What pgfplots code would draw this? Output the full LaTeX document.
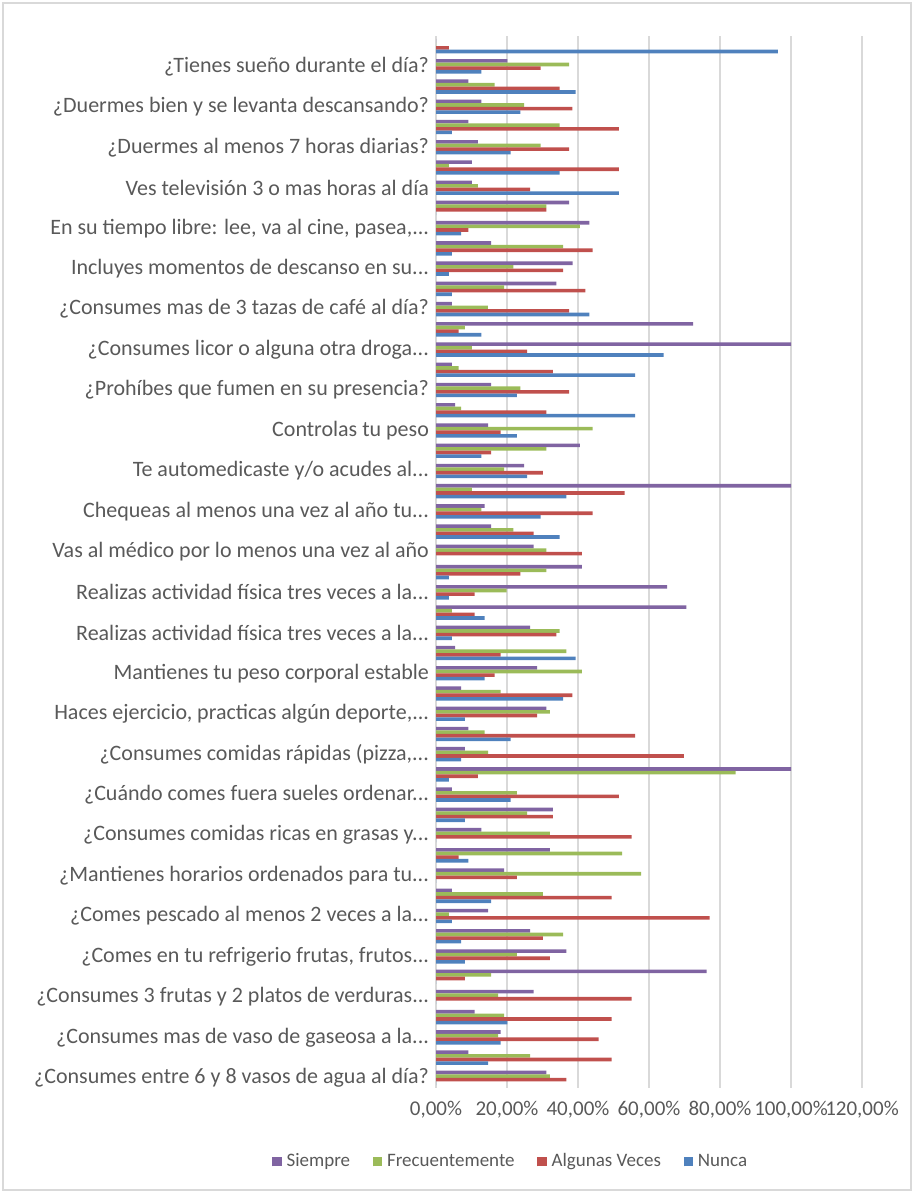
\documentclass[border=0pt]{standalone}
\usepackage{fontspec}
\setmainfont{Carlito}
\usepackage{pgfplots}
\pgfplotsset{compat=1.18}
\usepackage{pgfplotstable}
\definecolor{cP}{HTML}{8064A2}
\definecolor{cG}{HTML}{9BBB59}
\definecolor{cR}{HTML}{C0504D}
\definecolor{cB}{HTML}{4F81BD}
\definecolor{txt}{HTML}{595959}
\definecolor{grd}{HTML}{D9D9D9}
\newcommand{\dd}{.\kern0pt.\kern0pt.}
\newcommand{\sq}[1]{\textcolor{#1}{\rule{4.6pt}{4.6pt}}\hspace{2.5pt}}

\pgfplotstableread{
k P F R N
52 0 0 3.6 96.3
51 20.1 37.5 29.5 12.8
50 9.1 16.5 34.8 39.3
49 12.8 24.8 38.4 23.8
48 9.1 34.8 51.5 4.5
47 11.8 29.5 37.5 21.0
46 10.1 3.6 51.5 34.8
45 10.1 11.8 26.5 51.5
44 37.5 31.1 31.1 0
43 43.2 40.5 9.1 7.1
42 15.5 35.8 44.1 4.5
41 38.5 21.8 35.8 3.6
40 33.9 19.2 42.1 4.5
39 4.5 14.6 37.5 43.2
38 72.4 8.1 6.4 12.8
37 100 10.1 25.7 64.1
36 4.5 6.4 32.9 56.1
35 15.5 23.8 37.5 22.8
34 5.4 7.1 31.1 56.1
33 14.7 44.1 18.2 22.8
32 40.5 31.1 15.5 12.8
31 24.8 19.2 30.1 25.7
30 100 10.1 53.1 36.7
29 13.7 12.8 44.1 29.5
28 15.5 21.8 27.5 34.8
27 27.5 31.1 41.1 0
26 41.1 31.1 23.8 3.6
25 65.1 19.9 10.9 3.6
24 70.5 4.5 10.9 13.7
23 26.5 34.8 33.9 4.5
22 5.4 36.7 18.2 39.3
21 28.5 41.1 16.5 13.7
20 7.1 18.2 38.4 35.8
19 31.1 32.1 28.5 8.1
18 9.1 13.7 56.1 21.0
17 8.1 14.7 69.8 7.1
16 100 84.4 11.8 3.6
15 4.5 22.8 51.5 21.0
14 32.9 25.7 32.9 8.1
13 12.8 32.1 55.1 0
12 32.1 52.4 6.4 9.1
11 19.2 57.8 22.8 0
10 4.5 30.1 49.5 15.5
9 14.7 3.6 77.1 4.5
8 26.5 35.8 30.1 7.1
7 36.7 22.8 32.1 8.1
6 76.2 15.5 8.1 0
5 27.5 17.5 55.1 0
4 10.9 19.2 49.5 20.1
3 18.2 17.5 45.8 18.2
2 9.1 26.5 49.5 14.7
1 31.1 32.1 36.7 0
}\datatable

\begin{document}
\begin{tikzpicture}
\path[use as bounding box] (0,0) rectangle (457pt,596.5pt);
\draw[grd, line width=0.75pt] (1.5pt,1.5pt) rectangle (455.5pt,595pt);
\begin{axis}[
  at={(218pt,52.5pt)}, anchor=south west,
  scale only axis, width=213pt, height=526pt,
  xbar, bar width=1.8pt,
  xmin=0, xmax=120, ymin=0.5, ymax=52.5,
  xtick={0,20,40,60,80,100,120},
  xticklabels={{0,00\%},{20,00\%},{40,00\%},{60,00\%},{80,00\%},{100,00\%},{120,00\%}},
  ytick={1,3,5,7,9,11,13,15,17,19,21,23,25,27,29,31,33,35,37,39,41,43,45,47,49,51},
  yticklabels={
    {¿Consumes entre 6 y 8 vasos de agua al día?},
    {¿Consumes mas de vaso de gaseosa a la\dd},
    {¿Consumes 3 frutas y 2 platos de verduras\dd},
    {¿Comes en tu refrigerio frutas, frutos\dd},
    {¿Comes pescado al menos 2 veces a la\dd},
    {¿Mantienes horarios ordenados para tu\dd},
    {¿Consumes comidas ricas en grasas y\dd},
    {¿Cuándo comes fuera sueles ordenar\dd},
    {¿Consumes comidas rápidas (pizza,\dd},
    {Haces ejercicio, practicas algún deporte,\dd},
    {Mantienes tu peso corporal estable},
    {Realizas actividad física tres veces a la\dd},
    {Realizas actividad física tres veces a la\dd},
    {Vas al médico por lo menos una vez al año},
    {Chequeas al menos una vez al año tu\dd},
    {Te automedicaste y/o acudes al\dd},
    {Controlas tu peso},
    {¿Prohíbes que fumen en su presencia?},
    {¿Consumes licor o alguna otra droga\dd},
    {¿Consumes mas de 3 tazas de café al día?},
    {Incluyes momentos de descanso en su\dd},
    {En su tiempo libre: lee, va al cine, pasea,\dd},
    {Ves televisión 3 o mas horas al día},
    {¿Duermes al menos 7 horas diarias?},
    {¿Duermes bien y se levanta descansando?},
    {¿Tienes sueño durante el día?}
  },
  major tick length=0pt,
  xmajorgrids, grid style={grd, line width=1pt},
  axis line style={draw=none},
  yticklabel style={font=\fontsize{11}{13}\selectfont, text=txt},
  xticklabel style={font=\fontsize{10.5}{12}\selectfont, text=txt, yshift=-3pt},
  /pgf/number format/assume math mode=true,
]
\addplot[fill=cP, draw=none, bar shift=2.7pt] table[x=P, y=k] {\datatable};
\addplot[fill=cG, draw=none, bar shift=0.9pt] table[x=F, y=k] {\datatable};
\addplot[fill=cR, draw=none, bar shift=-0.9pt] table[x=R, y=k] {\datatable};
\addplot[fill=cB, draw=none, bar shift=-2.7pt] table[x=N, y=k] {\datatable};
\end{axis}
\begin{scope}[every node/.style={anchor=base west, inner sep=0pt, text=txt, font=\fontsize{9.5}{11}\selectfont}]
\node (l1) at (136pt,13.3pt) {\sq{cP}Siempre};
\node (l2) at ([xshift=11pt]l1.base east) {\sq{cG}Frecuentemente};
\node (l3) at ([xshift=11pt]l2.base east) {\sq{cR}Algunas Veces};
\node (l4) at ([xshift=11pt]l3.base east) {\sq{cB}Nunca};
\end{scope}
\end{tikzpicture}
\end{document}
